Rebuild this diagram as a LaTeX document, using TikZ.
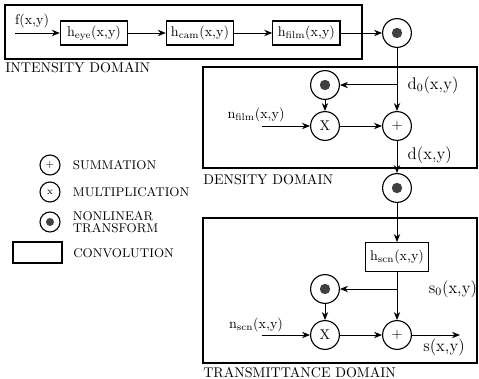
\documentclass[tikz,border=0pt]{standalone}
\usepackage{tikz}
\usetikzlibrary{arrows.meta,positioning}
\tikzset{
  convbox/.style={draw,line width=0.8pt,minimum width=1.68cm,minimum height=0.6cm,inner sep=1pt},
  domainbox/.style={draw,line width=0.8pt},
  opnode/.style={draw,circle,line width=0.8pt,minimum size=0.72cm,inner sep=0pt},
  nlnode/.style={opnode,path picture={\fill[black!75] (path picture bounding box.center) circle (0.13);}},
  legop/.style={draw,circle,line width=0.8pt,minimum size=0.5cm,inner sep=0pt,font=\scriptsize},
  legnl/.style={legop,path picture={\fill[black!75] (path picture bounding box.center) circle (0.1);}},
  arr/.style={-{Stealth[length=2mm,width=1.6mm]},line width=0.7pt},
  lab/.style={inner sep=1pt},
  domlab/.style={anchor=west,inner sep=0pt}
}

\begin{document}
\begin{tikzpicture}[font=\normalsize]
  \useasboundingbox (0,0) rectangle (11.975,9.475);
  % domains
  \draw[domainbox] (0.125,8.0) rectangle (9.05,9.35);
  \node[domlab] (intlab) at (0.125,7.775) {INTENSITY DOMAIN};
  \draw[domainbox] (5.075,5.275) rectangle (11.925,7.8);
  \node[domlab] (denlab) at (5.075,4.975) {DENSITY DOMAIN};
  \draw[domainbox] (5.075,0.4) rectangle (11.925,4.025);
  \node[domlab] (tralab) at (5.075,0.15) {TRANSMITTANCE DOMAIN};
  % intensity chain
  \coordinate (fin) at (0.375,8.65);
  \node[lab] (flab) at (0.8,8.95) {f(x,y)};
  \node[convbox] (heye) at (2.35,8.65) {h\textsubscript{eye}(x,y)};
  \node[convbox] (hcam) at (5.0,8.65) {h\textsubscript{cam}(x,y)};
  \node[convbox] (hfilm) at (7.66,8.65) {h\textsubscript{film}(x,y)};
  \node[nlnode] (nla) at (9.925,8.65) {};
  \draw[arr] (fin) -- (heye);
  \draw[arr] (heye) -- (hcam);
  \draw[arr] (hcam) -- (hfilm);
  \draw[arr] (hfilm) -- (nla);
  % density domain
  \coordinate (dzero) at (9.925,7.35);
  \node[lab,anchor=west,font=\large] (dzlab) at (10.15,7.35) {d\textsubscript{0}(x,y)};
  \node[nlnode] (nlb) at (8.125,7.35) {};
  \node[opnode] (mula) at (8.125,6.325) {X};
  \node[opnode] (suma) at (9.925,6.325) {+};
  \coordinate (nfin) at (6.55,6.325);
  \node[lab] (nflab) at (6.4,6.6) {n\textsubscript{film}(x,y)};
  \node[lab,anchor=west,font=\large] (dlab) at (10.15,5.6) {d(x,y)};
  \node[nlnode] (nlc) at (9.925,4.775) {};
  \draw[arr] (nla) -- (suma);
  \draw[arr] (dzero) -- (nlb);
  \draw[arr] (nlb) -- (mula);
  \draw[arr] (nfin) -- (mula);
  \draw[arr] (mula) -- (suma);
  \draw[arr] (suma) -- (nlc);
  % transmittance domain
  \node[convbox,minimum width=1.58cm,minimum height=0.72cm] (hscn) at (9.925,3.05) {h\textsubscript{scn}(x,y)};
  \coordinate (szero) at (9.925,2.25);
  \node[lab,anchor=west,font=\large] (szlab) at (10.68,2.25) {s\textsubscript{0}(x,y)};
  \node[nlnode] (nld) at (8.125,2.25) {};
  \node[opnode] (mulb) at (8.125,1.1) {X};
  \node[opnode] (sumb) at (9.925,1.1) {+};
  \coordinate (nsin) at (6.55,1.1);
  \node[lab] (nslab) at (6.4,1.35) {n\textsubscript{scn}(x,y)};
  \coordinate (sout) at (11.5,1.1);
  \node[lab,font=\large] (slab) at (11.1,0.8) {s(x,y)};
  \draw[arr] (nlc) -- (hscn);
  \draw[arr] (hscn) -- (sumb);
  \draw[arr] (szero) -- (nld);
  \draw[arr] (nld) -- (mulb);
  \draw[arr] (nsin) -- (mulb);
  \draw[arr] (mulb) -- (sumb);
  \draw[arr] (sumb) -- (sout);
  % legend
  \begin{scope}[font=\small]
    \node[legop] (lsum) at (1.25,5.35) {+};
    \node[domlab,right=0.3cm of lsum] (lsumt) {SUMMATION};
    \node[legop] (lmul) at (1.25,4.675) {x};
    \node[domlab,right=0.3cm of lmul] (lmult) {MULTIPLICATION};
    \node[legnl] (lnl) at (1.25,3.925) {};
    \node[domlab,right=0.3cm of lnl,align=left] (lnlt) {NONLINEAR\\[-3pt]TRANSFORM};
    \node[draw,line width=0.8pt,minimum width=1.225cm,minimum height=0.525cm] (lconv) at (0.9375,3.1625) {};
    \node[domlab] (lconvt) at (1.825,3.15) {CONVOLUTION};
  \end{scope}
\end{tikzpicture}
\end{document}
